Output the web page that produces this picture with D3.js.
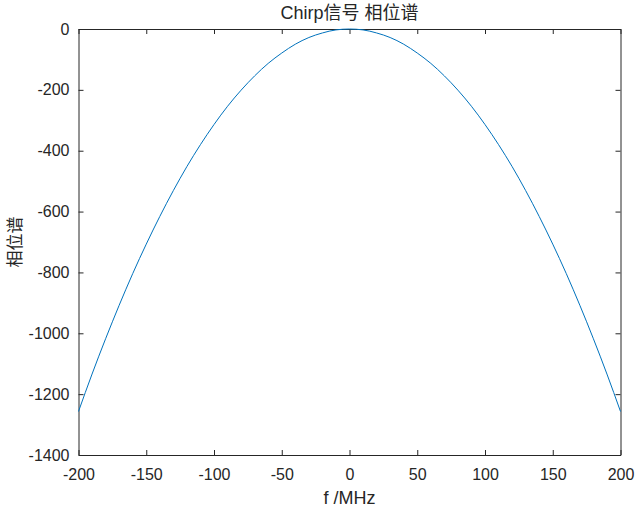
<!DOCTYPE html>
<html>
<head>
<meta charset="utf-8">
<script src="https://cdn.jsdelivr.net/npm/d3@7"></script>
<style>
    body { margin: 0; background: #fff; }
    text { font-family: "Liberation Sans", Arial, "Noto Sans CJK SC", sans-serif; fill: #262626; }
    .cjk { font-family: "Liberation Sans", "Noto Sans CJK SC", sans-serif; }
</style>
</head>
<body>
<div id="chart"></div>
<script>
// frequency samples (MHz) and phase values
var freqs = [-200, -190, -180, -170, -160, -150, -140, -130, -120, -110, -100,
    -90, -80, -70, -60, -50, -40, -30, -20, -10, 0,
    10, 20, 30, 40, 50, 60, 70, 80, 90, 100,
    110, 120, 130, 140, 150, 160, 170, 180, 190, 200];
var phaseHalf = [0, -3, -13, -28, -50, -79, -113, -154, -201, -254, -314,
    -380, -452, -531, -616, -707, -804, -908, -1018, -1134, -1257];
// right side mirrors the left side
var phase = phaseHalf.slice(1).reverse().concat(phaseHalf);

var xTicks = [-200, -150, -100, -50, 0, 50, 100, 150, 200];
var yTicks = [-1400, -1200, -1000, -800, -600, -400, -200, 0];

var svgWidth = 638;
var svgHeight = 509;

var margin = {
    top: 29,
    right: 17.5,
    bottom: 54,
    left: 78.5
};

var width = svgWidth - margin.left - margin.right;
var height = svgHeight - margin.top - margin.bottom;

var svg = d3.select("#chart")
    .append("svg")
    .attr("width", svgWidth)
    .attr("height", svgHeight);

var chartGroup = svg.append("g")
    .attr("transform", `translate(${margin.left}, ${margin.top})`);

var xScale = d3.scaleLinear().domain([-200, 200]).range([0, width]);
var yScale = d3.scaleLinear().domain([-1400, 0]).range([height, 0]);

var plainNum = d => String(d);

// axes with ticks pointing inward, MATLAB style
var xAxis = d3.axisBottom(xScale).tickValues(xTicks).tickFormat(plainNum).tickSizeInner(-5).tickSizeOuter(0).tickPadding(14);
var yAxis = d3.axisLeft(yScale).tickValues(yTicks).tickFormat(plainNum).tickSizeInner(-5).tickSizeOuter(0).tickPadding(9);
var xAxisTop = d3.axisTop(xScale).tickValues(xTicks).tickSizeInner(-5).tickSizeOuter(0).tickFormat("");
var yAxisRight = d3.axisRight(yScale).tickValues(yTicks).tickSizeInner(-5).tickSizeOuter(0).tickFormat("");

function styleAxis(g) {
    g.select(".domain").attr("stroke", "#262626");
    g.selectAll(".tick line").attr("stroke", "#262626");
    g.selectAll(".tick text").attr("font-size", "16px").attr("fill", "#262626")
        .attr("font-family", "'Liberation Sans', Arial, sans-serif");
}

chartGroup.append("g").attr("transform", `translate(0, ${height})`).call(xAxis).call(styleAxis);
chartGroup.append("g").call(yAxis).call(styleAxis);
chartGroup.append("g").call(xAxisTop).call(styleAxis);
chartGroup.append("g").attr("transform", `translate(${width}, 0)`).call(yAxisRight).call(styleAxis);

// the phase curve
var line = d3.line()
    .x((d, i) => xScale(freqs[i]))
    .y(d => yScale(d))
    .curve(d3.curveMonotoneX);

chartGroup.append("path")
    .datum(phase)
    .attr("d", line)
    .attr("fill", "none")
    .attr("stroke", "#0072BD")
    .attr("stroke-width", 1);

// title and labels
svg.append("text")
    .attr("class", "cjk")
    .attr("x", margin.left + width / 2)
    .attr("y", 19)
    .attr("text-anchor", "middle")
    .attr("font-size", "18px")
    .text("Chirp信号 相位谱");

svg.append("text")
    .attr("x", margin.left + width / 2)
    .attr("y", 504)
    .attr("text-anchor", "middle")
    .attr("font-size", "18px")
    .text("f /MHz");

svg.append("text")
    .attr("class", "cjk")
    .attr("transform", `translate(21, ${margin.top + height / 2}) rotate(-90)`)
    .attr("text-anchor", "middle")
    .attr("font-size", "17px")
    .text("相位谱");
</script>
</body>
</html>
